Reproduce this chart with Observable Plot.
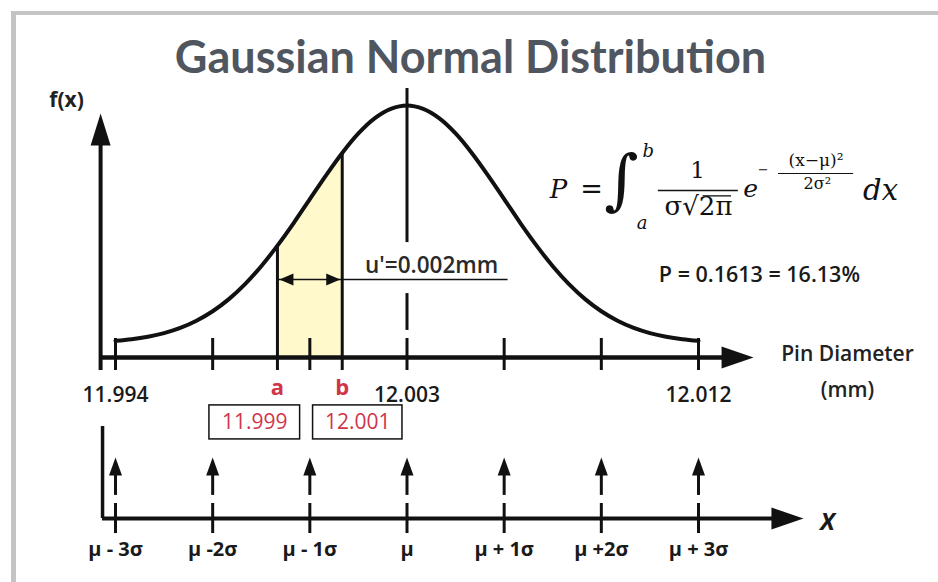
<!DOCTYPE html>
<html>
<head>
<meta charset="utf-8">
<script src="https://cdn.jsdelivr.net/npm/d3@7"></script>
<script src="https://cdn.jsdelivr.net/npm/@observablehq/plot@0.6"></script>
<style>
html, body { margin: 0; padding: 0; background: #fff; overflow: hidden; }
#wrap { position: relative; width: 938px; height: 582px; }
#wrap svg { display: block; }
#edge { position: absolute; left: 11px; top: 11px; right: -20px; bottom: -20px;
  border-left: 5px solid #c4c4c4; border-top: 4px solid #c4c4c4; pointer-events: none; }
</style>
</head>
<body>
<div id="wrap"><div id="chart"></div><div id="edge"></div></div>
<script>
// ---------------- data ----------------
const title = "Gaussian Normal Distribution";
const mu = 12.003;
const sigma = 0.003;
const pinDiameter = [11.994, 11.9945, 11.995, 11.9955, 11.996, 11.9965, 11.997, 11.9975, 11.998, 11.9985,
  11.999, 11.9995, 12.000, 12.0005, 12.001, 12.0015, 12.002, 12.0025, 12.003, 12.0035, 12.004, 12.0045,
  12.005, 12.0055, 12.006, 12.0065, 12.007, 12.0075, 12.008, 12.0085, 12.009, 12.0095, 12.010, 12.0105,
  12.011, 12.0115, 12.012];
const density = [1.5, 2.4, 3.8, 5.8, 8.7, 12.7, 18.0, 24.8, 33.2, 43.2, 54.7, 67.3, 80.7, 94.0, 106.5,
  117.4, 125.8, 131.1, 133.0, 131.1, 125.8, 117.4, 106.5, 94.0, 80.7, 67.3, 54.7, 43.2, 33.2, 24.8, 18.0,
  12.7, 8.7, 5.8, 3.8, 2.4, 1.5];
const sigmaSteps = [-3, -2, -1, 0, 1, 2, 3];
const sigmaLabels = ["μ - 3σ", "μ -2σ", "μ - 1σ", "μ", "μ + 1σ", "μ +2σ", "μ + 3σ"];
const mmTicks = [11.994, 12.003, 12.012];
const mmTickLabels = ["11.994", "12.003", "12.012"];
const boundNames = ["a", "b"];
const boundValues = [11.999, 12.001];
const boundLabels = ["11.999", "12.001"];
const spanLabel = "u'=0.002mm";
const probabilityLabel = "P = 0.1613 = 16.13%";
const xAxisLabel = ["Pin Diameter", "(mm)"];

// ---------------- derived tables ----------------
const curve = pinDiameter.map((x, i) => ({x, f: density[i]}));
const fAt = v => curve.find(c => Math.abs(c.x - v) < 1e-9).f;
const shaded = curve.filter(c => c.x >= boundValues[0] - 1e-9 && c.x <= boundValues[1] + 1e-9);
const sigmaPos = sigmaSteps.map(k => mu + k * sigma);
const sigmaTable = sigmaSteps.map((k, i) => ({x: mu + k * sigma, label: sigmaLabels[i]}));
const mmTable = mmTicks.map((x, i) => ({x, label: mmTickLabels[i]}));
const bounds = boundValues.map((x, i) => ({x, name: boundNames[i], label: boundLabels[i]}));

// ---------------- layout (annotation anchors in data units) ----------------
const L = {
  axisY: -7.8, tickTop: 2.8, tickBot: -15.1,
  yAxisX: 11.99354, yAxisTip: 128.5, yAxisLineTop: 114,
  xAxisTip: 12.0137, xAxisLineEnd: 12.0129,
  meanTop: 142.5, meanGapTop: 56.4, meanGapBot: 27.9, meanLow: 7.3,
  spanY: 35.8, spanEnd: 12.00612,
  mmLabelY: -28.8, boundLabelY: -25.1,
  boxTop: -34.6, boxBot: -53.6, boxTextY: -44.1,
  boxes: [[11.9969, 11.9997], [12.0001, 12.00286]],
  lowX: 11.9936, lowTop: -46.4, lowAxisY: -97.8, lowAxisTip: 12.01524, lowAxisLineEnd: 12.0145,
  lowTickTop: -89.4, lowTickBot: -106.2,
  arrowTip: -63.7, arrowShaftTop: -72.0, arrowShaftBot: -84.9,
  sigmaLabelY: -115.1,
  titleX: 12.00496, titleY: 159.3,
  fxX: 11.99249, fxY: 135.8,
  pinX: 12.01660, pinY: -6.1, mmY: -26.3,
  bigXX: 12.01598, bigXY: -100.0,
  pX: 12.01388, pY: 38.0,
  uX: 12.00376, uY: 43.6
};

const ink = "#111";
const red = "#d1344a";
const sans = "'Open Sans', Lato, sans-serif";
const titleFont = "Lato, 'Open Sans', sans-serif";
const serif = "'DejaVu Serif', serif";

function txt(str, x, y, o = {}) {
  return Plot.text([str], {x: () => x, y: () => y, text: d => d, lineAnchor: "middle", fill: ink, fontFamily: sans, ...o});
}

// formula pieces
const formula = [
  txt("P", 12.00768, 86.1, {fontFamily: serif, fontStyle: "italic", fontSize: 26}),
  txt("=", 12.00870, 86.1, {fontFamily: serif, fontSize: 27}),
  txt("∫", 12.00962, 91.1, {fontFamily: serif, fontSize: 66}),
  txt("b", 12.01045, 107.3, {fontFamily: serif, fontStyle: "italic", fontSize: 18}),
  txt("a", 12.01026, 67.0, {fontFamily: serif, fontStyle: "italic", fontSize: 18}),
  txt("1", 12.01197, 96.7, {fontFamily: serif, fontSize: 23}),
  txt("σ√2π", 12.01200, 76.6, {fontFamily: serif, fontSize: 26}),
  Plot.ruleY([82.5], {x1: 12.01214, x2: 12.01302, stroke: ink, strokeWidth: 1.3}),
  txt("e", 12.01361, 86.6, {fontFamily: serif, fontStyle: "italic", fontSize: 25}),
  txt("−", 12.01400, 97.0, {fontFamily: serif, fontSize: 13}),
  txt("(x−μ)²", 12.01563, 102.3, {fontFamily: serif, fontSize: 17}),
  txt("2σ²", 12.01567, 89.0, {fontFamily: serif, fontSize: 16}),
  txt("dx", 12.01762, 85.5, {fontFamily: serif, fontStyle: "italic", fontSize: 29}),
  Plot.ruleY([85.5], {x1: 12.01076, x2: 12.01323, stroke: ink, strokeWidth: 1.3}),
  Plot.ruleY([95.0], {x1: 12.01447, x2: 12.01679, stroke: ink, strokeWidth: 1.1})
];

const head = (data, o) => Plot.vector(data, {shape: "spike", anchor: "end", fill: ink, stroke: "none", ...o});

const chart = Plot.plot({
  width: 938,
  height: 582,
  marginTop: 0, marginRight: 0, marginBottom: 0, marginLeft: 0,
  x: {domain: [11.994, 12.012], range: [115, 698], axis: null},
  y: {domain: [0, 133], range: [343, 105], axis: null},
  style: {background: "#fff", fontFamily: sans},
  marks: [
    // shaded probability region
    Plot.areaY(shaded, {x: "x", y1: L.axisY, y2: "f", fill: "#fff9cc", curve: "catmull-rom"}),
    // the density curve
    Plot.line(curve, {x: "x", y: "f", stroke: ink, strokeWidth: 4, curve: "catmull-rom"}),
    // a and b verticals
    Plot.ruleX(bounds, {x: "x", y1: L.tickBot, y2: d => fAt(d.x), stroke: ink, strokeWidth: 3}),
    // mean line (broken)
    Plot.ruleX([mu], {y1: L.meanGapTop, y2: L.meanTop, stroke: ink, strokeWidth: 3}),
    Plot.ruleX([mu], {y1: L.meanLow, y2: L.meanGapBot, stroke: ink, strokeWidth: 3}),
    // upper axes
    Plot.ruleY([L.axisY], {x1: L.yAxisX, x2: L.xAxisLineEnd, stroke: ink, strokeWidth: 4.5}),
    Plot.ruleX([L.yAxisX], {y1: L.tickBot, y2: L.yAxisLineTop, stroke: ink, strokeWidth: 4}),
    head([0], {x: () => L.yAxisX, y: () => L.yAxisTip, length: 32, r: 10, rotate: 0}),
    head([0], {x: () => L.xAxisTip, y: () => L.axisY, length: 32, r: 11, rotate: 90}),
    Plot.ruleX(sigmaPos, {y1: L.tickTop, y2: L.tickBot, stroke: ink, strokeWidth: 3}),
    // span arrow and u' line
    Plot.ruleY([L.spanY], {x1: boundValues[0], x2: L.spanEnd, stroke: ink, strokeWidth: 1.6}),
    head([0], {x: () => boundValues[0], y: () => L.spanY, length: 14, r: 6, rotate: -90, dx: 2}),
    head([0], {x: () => boundValues[1], y: () => L.spanY, length: 14, r: 6, rotate: 90, dx: -2}),
    txt(spanLabel, L.uX, L.uY, {fontSize: 22.5, fontWeight: 600, fill: "#2a2a2a"}),
    // mm labels
    Plot.text(mmTable, {x: "x", y: () => L.mmLabelY, text: "label", lineAnchor: "middle", fontSize: 21, fontWeight: 600, fill: "#1a1a1a"}),
    // a / b labels
    Plot.text(bounds, {x: "x", y: () => L.boundLabelY, text: "name", lineAnchor: "middle", fontSize: 22, fontWeight: "bold", fill: red}),
    // boxes with values
    Plot.rect(bounds, {x1: (d, i) => L.boxes[i][0], x2: (d, i) => L.boxes[i][1], y1: () => L.boxTop, y2: () => L.boxBot, fill: "#fff", stroke: ink, strokeWidth: 1.5}),
    Plot.text(bounds, {x: (d, i) => (L.boxes[i][0] + L.boxes[i][1]) / 2, y: () => L.boxTextY, text: "label", lineAnchor: "middle", fontSize: 21, fill: red}),
    // axis title
    txt(xAxisLabel[0], L.pinX, L.pinY, {fontSize: 21, fontWeight: 600, fill: "#222"}),
    txt(xAxisLabel[1], L.pinX, L.mmY, {fontSize: 21, fontWeight: 600, fill: "#222"}),
    txt("f(x)", L.fxX, L.fxY, {fontSize: 21, fontWeight: "bold", fill: "#222"}),
    // title
    txt(title, L.titleX, L.titleY, {fontFamily: titleFont, fontSize: 45, fontWeight: "bold", fill: "#50565f"}),
    // lower sigma scale
    Plot.ruleX([L.lowX], {y1: L.lowTop, y2: L.lowAxisY, stroke: ink, strokeWidth: 3.5}),
    Plot.ruleY([L.lowAxisY], {x1: L.lowX, x2: L.lowAxisLineEnd, stroke: ink, strokeWidth: 4}),
    head([0], {x: () => L.lowAxisTip, y: () => L.lowAxisY, length: 32, r: 11, rotate: 90}),
    Plot.ruleX(sigmaPos, {y1: L.lowTickTop, y2: L.lowTickBot, stroke: ink, strokeWidth: 3}),
    Plot.ruleX(sigmaPos, {y1: L.arrowShaftBot, y2: L.arrowShaftTop, stroke: ink, strokeWidth: 3}),
    head(sigmaPos, {x: d => d, y: () => L.arrowTip, length: 18, r: 6.5, rotate: 0}),
    Plot.text(sigmaTable, {x: "x", y: () => L.sigmaLabelY, text: "label", lineAnchor: "middle", fontSize: 20, fontWeight: "bold", fill: "#1a1a1a"}),
    txt("X", L.bigXX, L.bigXY, {fontSize: 24, fontWeight: "bold", fontStyle: "italic", fill: "#1a1a1a"}),
    // formula and result
    ...formula,
    txt(probabilityLabel, L.pX, L.pY, {fontSize: 21.5, fontWeight: 600, fill: "#1a1a1a"})
  ]
});
document.getElementById("chart").append(chart);
</script>
</body>
</html>
